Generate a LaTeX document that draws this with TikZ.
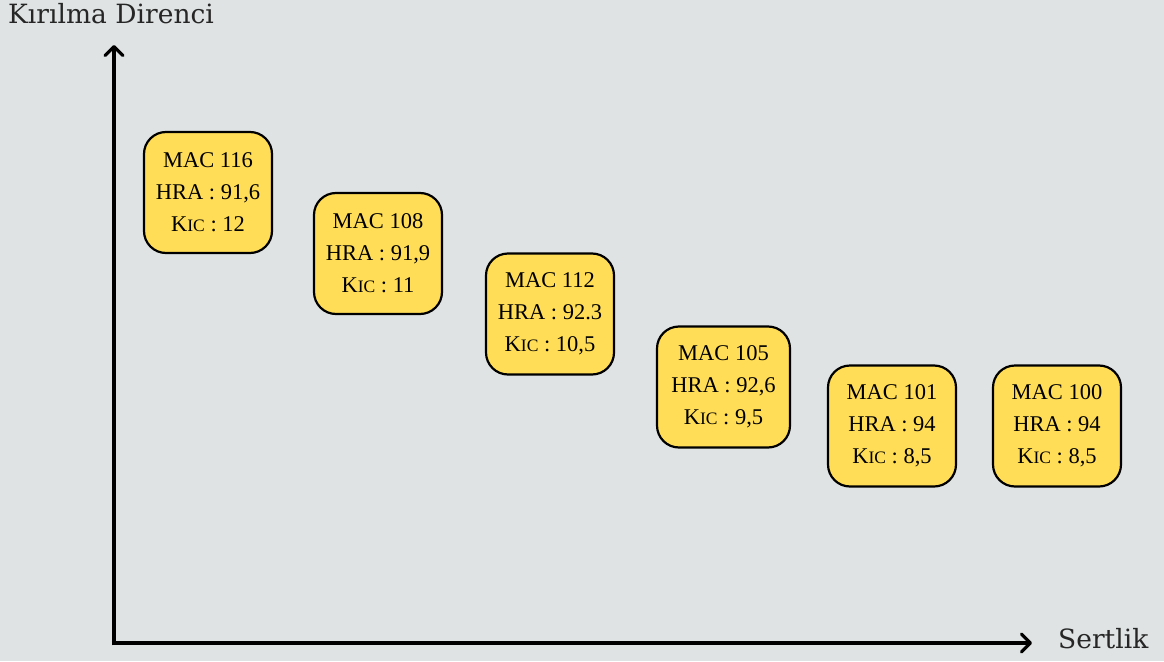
\documentclass[tikz,border=0pt]{standalone}
\usepackage{fontspec}
\setmainfont{Liberation Serif}
\newfontfamily\axfont{DejaVu Serif}
\usetikzlibrary{arrows.meta}
\definecolor{bgc}{HTML}{DFE3E4}
\definecolor{boxc}{HTML}{FFDD57}
\newcommand{\kic}{K{\fontsize{17.5}{20}\selectfont IC}}
\begin{document}
\begin{tikzpicture}[x=1pt,y=-1pt,
  card/.style={draw=black, line width=2.2pt, fill=boxc, rounded corners=22pt,
    minimum width=128pt, minimum height=121pt, align=center, inner sep=0pt,
    font=\fontsize{22.5}{32}\selectfont},
  axis/.style={line width=4.5pt, -{Straight Barb[length=9pt,width=18pt,line width=3.2pt,round]}},
  axlabel/.style={font=\axfont\fontsize{26.5}{30}\selectfont\color{black!85}, inner sep=0pt}]
\useasboundingbox[fill=bgc] (0,0) rectangle (1164,661);
\coordinate (o) at (114,643);
\coordinate (ytop) at (114,45);
\coordinate (xend) at (1032,643);
\draw[axis] (114,645.25) -- (ytop);
\draw[axis] (111.75,643) -- (xend);
\node[axlabel, anchor=base west] (ylab) at (8,24) {Kırılma Direnci};
\node[axlabel, anchor=base west] (xlab) at (1058,648) {Sertlik};
\node[card] (m116) at (208,192.5) {MAC 116\\HRA : 91,6\\\kic{} : 12};
\node[card] (m108) at (378,253.5) {MAC 108\\HRA : 91,9\\\kic{} : 11};
\node[card] (m112) at (550,314) {MAC 112\\HRA : 92.3\\\kic{} : 10,5};
\node[card, minimum width=133pt] (m105) at (723.5,387) {MAC 105\\HRA : 92,6\\\kic{} : 9,5};
\node[card] (m101) at (892,426) {MAC 101\\HRA : 94\\\kic{} : 8,5};
\node[card] (m100) at (1057,426) {MAC 100\\HRA : 94\\\kic{} : 8,5};
\end{tikzpicture}
\end{document}
